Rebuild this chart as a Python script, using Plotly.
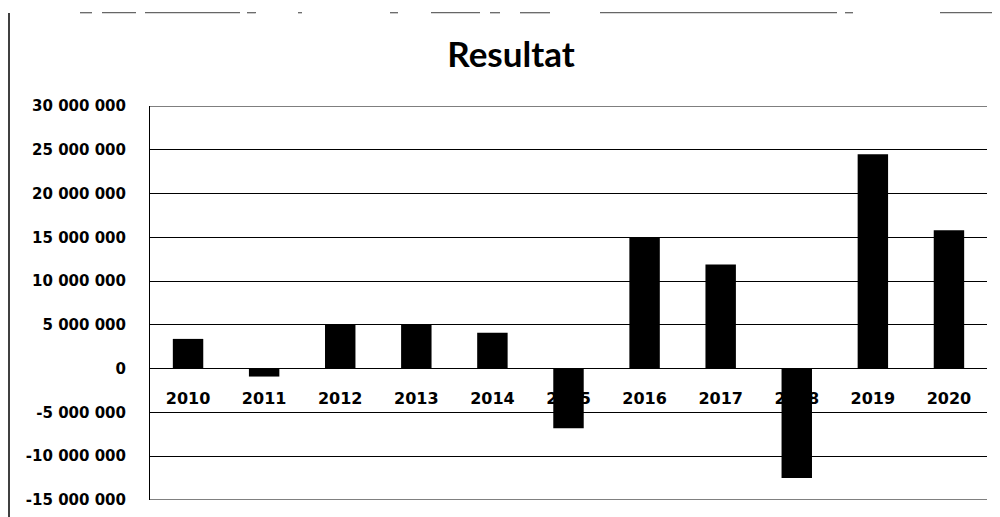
import plotly.graph_objects as go

years = ["2010", "2011", "2012", "2013", "2014", "2015", "2016", "2017", "2018", "2019", "2020"]
resultat = [3400000, -900000, 5000000, 5000000, 4100000, -6800000, 15000000, 11900000, -12500000, 24500000, 15800000]

y_min, y_max = -15000000, 30000000
y_ticks = [-15000000, -10000000, -5000000, 0, 5000000, 10000000, 15000000, 20000000, 25000000, 30000000]
y_tick_text = [f"{v:,}".replace(",", " ") for v in y_ticks]

TICK_FONT = "DejaVu Sans"
TITLE_FONT = "Lato"

fig = go.Figure()
fig.add_trace(go.Bar(x=years, y=resultat, marker=dict(color="black", line=dict(width=0)), showlegend=False))

# page body has an 8px default margin; size the figure to fit the 1000x517 window
W, H = 992, 509
L, R, T, B = 142, 13, 98, 17
pw, ph = W - L - R, H - T - B


def px(x):
    return (x - 8 - L) / pw


def py(y):
    return (H - B - (y - 8)) / ph


frame = [dict(type="line", xref="paper", yref="paper", x0=px(9), x1=px(9), y0=py(13), y1=py(530),
              line=dict(color="black", width=1.5))]
for a, b in [(80, 92), (102, 136), (145, 240), (247, 256), (298, 302), (390, 398), (431, 480),
             (490, 500), (520, 550), (600, 700), (700, 837), (845, 853), (940, 1000)]:
    frame.append(dict(type="line", xref="paper", yref="paper", x0=px(a), x1=px(b), y0=py(12.7), y1=py(12.7),
                      line=dict(color="#666666", width=1.3)))
for v in (y_min, y_max):
    frame.append(dict(type="line", xref="paper", yref="y", x0=0, x1=1, y0=v, y1=v,
                      line=dict(color="black", width=1)))

fig.update_layout(
    width=W, height=H,
    margin=dict(l=L, r=R, t=T, b=B, autoexpand=False),
    paper_bgcolor="white", plot_bgcolor="white",
    bargap=0.6,
    title=dict(text="<b>Resultat</b>", x=(511 - 8) / W, xanchor="center", y=1 - (55 - 8) / H, yanchor="middle",
               font=dict(family=TITLE_FONT, size=35, color="black")),
    font=dict(family=TICK_FONT, color="black"),
    xaxis=dict(type="category", anchor="free", position=1 / 3,
               showline=False, showgrid=False, ticks="", ticklabelstandoff=18,
               tickfont=dict(family=TICK_FONT, size=16, color="black", weight="bold"), layer="below traces"),
    yaxis=dict(range=[y_min, y_max], tickvals=y_ticks, ticktext=y_tick_text,
               showgrid=True, gridcolor="black", gridwidth=1,
               zeroline=True, zerolinecolor="black", zerolinewidth=1.3,
               showline=True, linecolor="black", linewidth=1,
               ticks="", ticklabelstandoff=20,
               tickfont=dict(family=TICK_FONT, size=15, color="black", weight="bold")),
    shapes=frame,
)

fig.write_html("out.html")
